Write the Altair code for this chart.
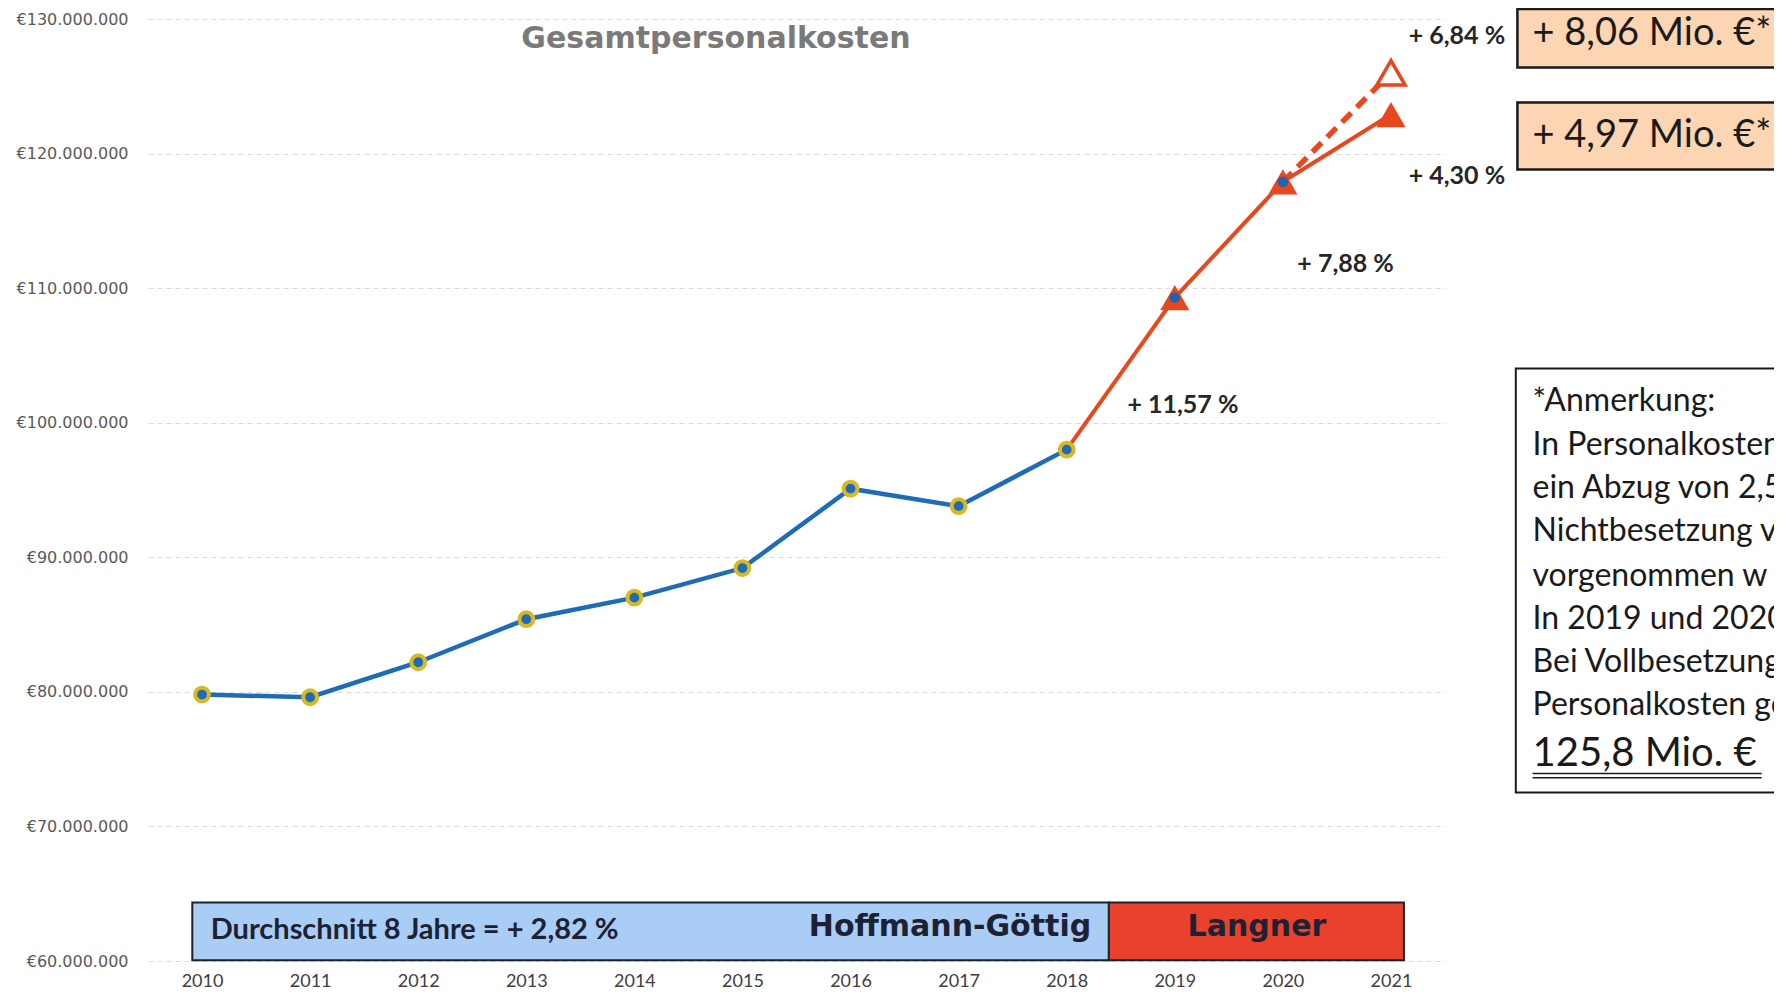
import altair as alt
import pandas as pd

# ---------------- data ----------------
blue_years = [2010, 2011, 2012, 2013, 2014, 2015, 2016, 2017, 2018]
blue_costs = [79_800_000, 79_600_000, 82_200_000, 85_400_000, 87_000_000,
              89_200_000, 95_100_000, 93_800_000, 98_000_000]
red_years = [2018, 2019, 2020, 2021]
red_costs = [98_000_000, 109_300_000, 117_900_000, 122_900_000]
full_years = [2020, 2021]
full_costs = [117_900_000, 126_000_000]
tri_years = [2019, 2020, 2021]
tri_costs = [109_300_000, 117_900_000, 122_900_000]
dot_years = [2019, 2020]
dot_costs = [109_300_000, 117_900_000]
year_ticks = [2010, 2011, 2012, 2013, 2014, 2015, 2016, 2017, 2018, 2019, 2020, 2021]
cost_ticks = [60_000_000, 70_000_000, 80_000_000, 90_000_000, 100_000_000,
              110_000_000, 120_000_000, 130_000_000]

pct_labels = ["+ 11,57 %", "+ 7,88 %", "+ 4,30 %", "+ 6,84 %"]
box_labels = ["+ 8,06 Mio. €*", "+ 4,97 Mio. €*"]
note_lines = ["*Anmerkung:", "In Personalkosten", "ein Abzug von 2,5",
              "Nichtbesetzung v", "vorgenommen w", "In 2019 und 2020",
              "Bei Vollbesetzung", "Personalkosten ge"]
note_total = "125,8 Mio. €"
band_labels = ["Hoffmann-Göttig", "Langner"]
avg_label = "Durchschnitt 8 Jahre  = + 2,82 %"
title_text = "Gesamtpersonalkosten"

# ---------------- scales / axes ----------------
XS = alt.Scale(domain=[2009.5, 2021.5], nice=False, zero=False)
YS = alt.Scale(domain=[60_000_000, 130_000_000], nice=False, zero=False)

X_AXIS = alt.Axis(values=year_ticks, format="d", ticks=False, domain=False, grid=False,
                  labelFont="Lato", labelFontSize=18, labelColor="#404040",
                  labelPadding=11, title=None)
Y_AXIS = alt.Axis(values=cost_ticks, ticks=False, domain=False, grid=True,
                  gridColor="#dadada", gridDash=[5, 4], gridWidth=1,
                  labelFont="DejaVu Sans", labelFontSize=16, labelColor="#5a5a5a",
                  labelPadding=20, title=None,
                  labelExpr="'€' + replace(format(datum.value, ',.0f'), regexp(',', 'g'), '.')")


def X(field="x"):
    return alt.X(f"{field}:Q", scale=XS, axis=X_AXIS, title=None)


def Y(field="y"):
    return alt.Y(f"{field}:Q", scale=YS, axis=Y_AXIS, title=None)


# ---------------- bottom bands ----------------
band_df = pd.DataFrame({
    "x": [2009.91, 2018.39], "x2": [2018.39, 2021.12],
    "y": [60_050_000, 60_050_000], "y2": [64_350_000, 64_350_000],
    "c": ["#a9cdf5", "#e8412c"],
})
bands = alt.Chart(band_df).mark_rect(stroke="#1c2130", strokeWidth=2).encode(
    x=X("x"), x2="x2", y=Y("y"), y2="y2",
    color=alt.Color("c:N", scale=None))

# ---------------- lines ----------------
blue_df = pd.DataFrame({"x": blue_years, "y": blue_costs})
red_df = pd.DataFrame({"x": red_years, "y": red_costs})
full_df = pd.DataFrame({"x": full_years, "y": full_costs})

blue_line = alt.Chart(blue_df).mark_line(color="#1e6cb5", strokeWidth=4.5).encode(x=X(), y=Y())
red_line = alt.Chart(red_df).mark_line(color="#e8481c", strokeWidth=4).encode(x=X(), y=Y())
dash_line = alt.Chart(full_df).mark_line(color="#e8481c", strokeWidth=5.5,
                                         strokeDash=[13, 8]).encode(x=X(), y=Y())

# ---------------- markers ----------------
circles = alt.Chart(blue_df).mark_point(shape="circle", filled=True, size=190,
                                        fill="#1e6cb5", stroke="#d9b823",
                                        strokeWidth=4, opacity=1).encode(x=X(), y=Y())
tri_df = pd.DataFrame({"x": tri_years, "y": tri_costs})
tris = alt.Chart(tri_df).mark_point(shape="triangle-up", filled=True, size=850,
                                    color="#e8461e", opacity=1).encode(x=X(), y=Y())
hollow_df = pd.DataFrame({"x": full_years[1:], "y": full_costs[1:]})
hollow = alt.Chart(hollow_df).mark_point(shape="triangle-up", filled=True, size=800,
                                         fill="white", stroke="#e8461e", strokeWidth=3.5,
                                         opacity=1).encode(x=X(), y=Y())
dot_df = pd.DataFrame({"x": dot_years, "y": dot_costs})
dots = alt.Chart(dot_df).mark_point(shape="circle", filled=True, size=110,
                                    color="#1e63b0", opacity=1).encode(x=X(), y=Y())


# ---------------- texts ----------------
def text_layer(xs, ys, texts, **kw):
    df = pd.DataFrame({"x": xs, "y": ys, "t": texts})
    return alt.Chart(df).mark_text(**kw).encode(x=X(), y=Y(), text="t:N")


title = text_layer([2014.755], [128_480_000], [title_text], font="DejaVu Sans",
                   fontWeight="bold", fontSize=30, color="#7a7a7a",
                   align="center", baseline="middle")

pcts = text_layer([2019.075, 2020.58, 2021.61, 2021.61],
                  [101_350_000, 111_760_000, 118_300_000, 128_770_000],
                  pct_labels, font="Lato", fontWeight="bold", fontSize=25,
                  color="#262626", align="center", baseline="middle")

avg_txt = text_layer([2010.08], [62_270_000], [avg_label], font="Lato",
                     fontWeight="bold", fontSize=29, color="#1c2233",
                     align="left", baseline="middle")
band_txt = text_layer([2016.92, 2019.76], [62_490_000, 62_490_000], band_labels,
                      font="DejaVu Sans", fontWeight="bold", fontSize=30,
                      color="#1c2233", align="center", baseline="middle")

# right-hand boxes
box_df = pd.DataFrame({
    "x": [2022.17, 2022.17], "x2": [2025.0, 2025.0],
    "y": [126_400_000, 118_820_000], "y2": [130_750_000, 123_800_000],
})
boxes = alt.Chart(box_df).mark_rect(fill="#fcd5b2", stroke="#1a1a1a", strokeWidth=2.5).encode(
    x=X("x"), x2="x2", y=Y("y"), y2="y2")
box_txt = text_layer([2022.31, 2022.31], [128_850_000, 121_340_000], box_labels,
                     font="Lato", fontSize=38, color="#1a1a1a",
                     align="left", baseline="middle")

note_df = pd.DataFrame({"x": [2022.155], "x2": [2025.0],
                        "y": [72_520_000], "y2": [104_030_000]})
note_box = alt.Chart(note_df).mark_rect(fill="white", stroke="#1a1a1a", strokeWidth=2).encode(
    x=X("x"), x2="x2", y=Y("y"), y2="y2")
note_ys = [101_650_000, 98_340_000, 95_130_000, 91_920_000, 88_630_000,
           85_420_000, 82_210_000, 79_000_000]
note_txt = text_layer([2022.31] * len(note_lines), note_ys, note_lines,
                      font="Lato", fontSize=32, color="#1a1a1a",
                      align="left", baseline="middle")
total_txt = text_layer([2022.31], [75_370_000], [note_total], font="Lato",
                       fontSize=40, color="#1a1a1a", align="left", baseline="middle")
ul_df = pd.DataFrame({"x": [2022.31, 2022.31], "x2": [2024.43, 2024.43],
                      "y": [73_930_000, 73_620_000]})
underline = alt.Chart(ul_df).mark_rule(color="#1a1a1a", strokeWidth=1.6).encode(
    x=X("x"), x2="x2", y=Y("y"))

chart = alt.layer(
    bands, blue_line, red_line, dash_line, circles, tris, hollow, dots,
    title, pcts, avg_txt, band_txt, boxes, box_txt, note_box, note_txt,
    total_txt, underline,
).properties(
    width=1297, height=942,
    autosize=alt.AutoSizeParams(type="none"),
    padding={"left": 140, "top": 11, "right": 329, "bottom": 28},
    background="white",
).configure_view(stroke="transparent", strokeWidth=0)

chart.save("out.html", embed_options={"renderer": "svg", "actions": False})
